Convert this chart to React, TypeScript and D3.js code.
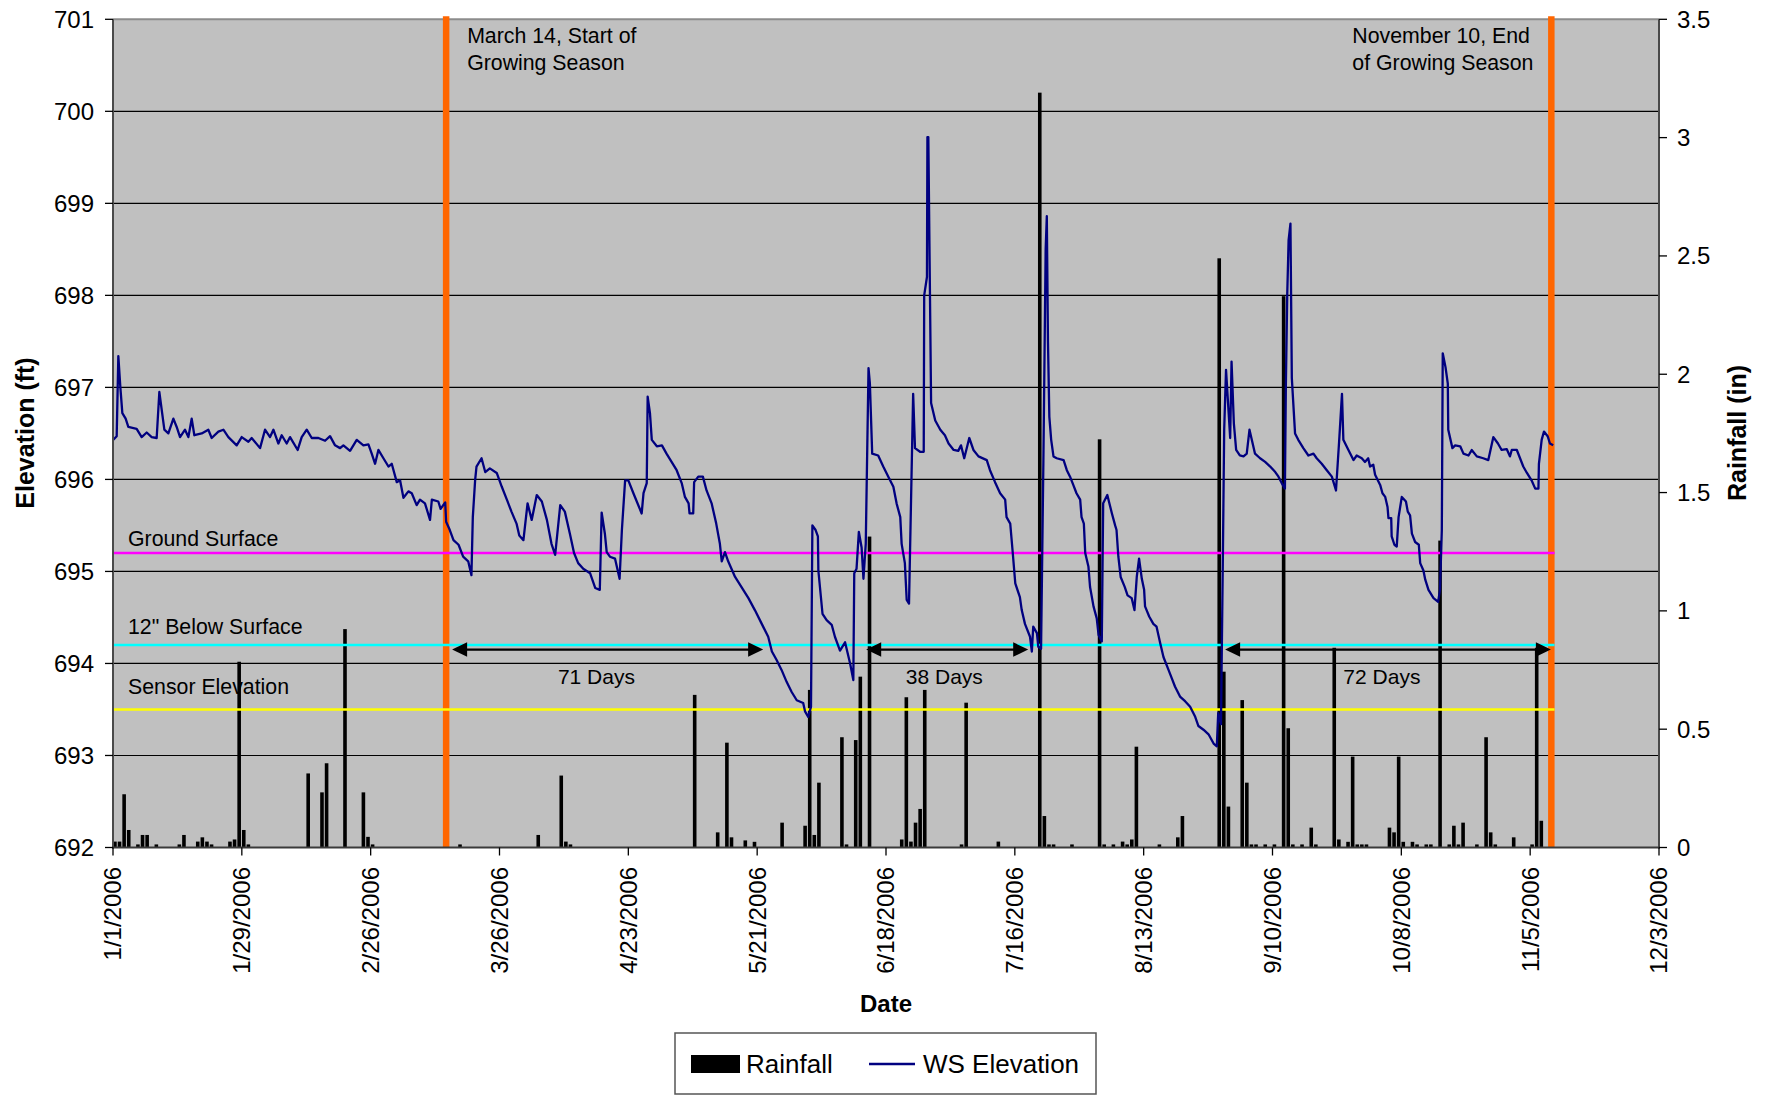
import React from 'react';
import * as d3 from 'd3';

// ---------- DATA ----------
const START_DATE = new Date(2006, 0, 1);
const AXIS_END_DAY = 336; // 12/3/2006
const tickDays = d3.range(0, 337, 28);
const elevTicks = d3.range(692, 702, 1);
const rainTicks = [0, 0.5, 1, 1.5, 2, 2.5, 3, 3.5];

// Daily rainfall (day index since 1/1/2006, inches)
const rainDays = [0, 1, 2, 3, 5, 6, 7, 9, 14, 15, 18, 19, 20, 21, 25, 26, 27, 28, 29, 42, 45, 46, 50, 54, 55, 56,
  75, 92, 97, 98, 99, 126, 131, 133, 134, 137, 139, 145, 150, 151, 152, 153, 158, 159, 161, 162, 164,
  171, 172, 173, 174, 175, 176, 184, 185, 192, 201, 202, 203, 204, 208, 214, 215, 217, 219, 220, 221, 222,
  227, 231, 232, 240, 241, 242, 245, 246, 247, 248, 250, 252, 254, 255, 256, 258, 260, 261, 265, 266, 268,
  269, 270, 271, 272, 277, 278, 279, 280, 282, 283, 285, 286, 288, 290, 291, 292, 293, 296, 298, 299, 300,
  304, 308, 309, 310];
const rainInches = [0.025, 0.025, 0.225, 0.074, 0.013, 0.053, 0.053, 0.013, 0.013, 0.053, 0.025, 0.043, 0.025, 0.013, 0.025, 0.034, 0.785, 0.074, 0.013, 0.313, 0.233, 0.356, 0.923, 0.233, 0.045, 0.013,
  0.013, 0.053, 0.304, 0.025, 0.013, 0.645, 0.064, 0.443, 0.043, 0.03, 0.024, 0.105, 0.092, 0.666, 0.053, 0.274, 0.466, 0.013, 0.454, 0.722, 1.314,
  0.034, 0.635, 0.025, 0.105, 0.163, 0.666, 0.013, 0.612, 0.025, 3.19, 0.133, 0.013, 0.013, 0.013, 1.725, 0.013, 0.013, 0.025, 0.013, 0.034, 0.426,
  0.013, 0.043, 0.133, 2.49, 0.743, 0.173, 0.623, 0.274, 0.013, 0.013, 0.013, 0.013, 2.33, 0.504, 0.013, 0.013, 0.084, 0.013, 0.844, 0.034, 0.024,
  0.384, 0.013, 0.013, 0.013, 0.084, 0.064, 0.384, 0.024, 0.024, 0.013, 0.013, 0.013, 1.297, 0.013, 0.092, 0.013, 0.105, 0.013, 0.466, 0.064, 0.013,
  0.043, 0.013, 0.844, 0.113];

// Water surface elevation (day since 1/1/2006, ft)
const wsDays = [0.07, 0.8, 1.16, 1.6, 2.03, 2.75, 3.33, 5.14, 6.23, 7.32, 8.41, 9.49, 10.07, 11.16, 12.03, 13.12, 13.84, 14.57, 15.65, 16.38, 17.1, 17.68, 19.28, 20.72, 21.45, 22.9, 23.99, 25.07, 26.88, 27.97, 29.42, 30.14, 31.96, 33.04, 34.13, 34.86, 35.94, 36.67, 37.75, 38.48, 40.14, 41.01, 42.1, 43.19, 44.64, 46.09, 47.17, 48.26, 49.35, 50.07, 51.52, 52.97, 54.42, 55.51, 56.23, 56.96, 57.68, 58.77, 59.86, 60.58, 61.67, 62.39, 63.12, 64.2, 64.93, 66.0,
  66.72, 67.8, 68.9, 69.3, 70.7, 71.2, 72.2, 72.4, 73.2, 74.0, 75.1, 76.1, 77.2, 77.9, 78.2, 78.7, 79.0, 80.1, 80.9, 81.9, 83.4, 84.5, 85.6, 86.6, 87.7, 88.3, 89.2, 90.1, 91.0, 92.1, 93.2, 94.3, 95.3, 96.1, 97.2, 98.2, 99.3, 100.2, 101.1, 102.2, 103.7, 104.8, 105.8, 106.2, 106.9, 107.3, 108.0, 109.1, 110.1, 110.6, 111.3, 112.0, 113.1, 114.9, 115.3, 116.0, 116.2, 116.7, 117.1, 118.2, 119.3, 120.3, 121.4, 122.5, 123.6, 124.3, 125.1, 125.3, 126.1, 126.3, 127.2, 128.2, 129.0, 130.1, 131.1, 131.9, 132.3, 133.0, 133.7, 135.2,
  136.6, 138.1, 139.5, 141.0, 142.4, 143.2, 144.2, 145.3, 146.4, 147.5, 148.6, 150.0, 150.4, 151.1, 151.7, 152.0, 152.7, 153.2, 153.3, 154.2, 155.1, 156.2, 156.9, 158.0, 159.1, 160.2, 160.9, 161.1, 161.6, 162.1, 162.7, 163.1, 163.6, 164.2, 164.5, 165.0, 166.3, 167.4, 168.5, 169.6, 170.3, 171.1, 171.4, 172.1, 172.5, 173.0, 173.9, 174.3, 175.4, 176.2, 176.3, 176.9, 177.0, 177.2, 177.8, 178.7, 179.8, 180.8, 181.6, 182.7, 183.7, 184.3, 185.0, 186.1, 187.0, 188.1, 189.9, 190.6, 191.7, 192.8, 193.9, 194.2, 195.0, 195.5, 196.1, 197.1, 197.5, 198.2, 199.3, 199.7, 200.0, 200.8, 201.1, 201.7, 202.2, 202.7, 202.95, 203.2, 203.5, 203.9, 204.4,
  205.1, 206.6, 207.3, 208.0, 208.7, 209.4, 210.2, 210.5, 211.0, 211.3, 212.0, 212.35, 213.1, 213.8, 214.2, 214.9, 215.2, 216.1, 217.1, 217.8, 218.1, 218.5, 219.0, 219.9, 220.5, 221.4, 222.0, 222.5, 223.0, 223.6, 224.1, 224.3, 225.2, 226.1, 226.8, 227.6, 228.3, 229.4, 230.1, 230.8, 231.9, 233.0, 234.1, 235.2, 235.9, 237.0, 238.1, 239.2, 239.9, 240.2, 240.8, 241.2, 241.5, 241.9, 242.8, 243.1, 243.6, 244.1, 244.9, 245.7, 246.4, 247.0, 247.5, 248.2, 249.3, 250.4, 251.5, 252.6, 253.3, 254.0, 254.7, 254.9, 255.2, 255.5, 255.9, 256.2, 256.9, 257.6, 258.7, 259.8, 260.9, 261.6, 262.7, 263.8, 264.9, 265.8, 266.5, 267.1, 267.4, 268.5, 269.6, 270.3, 271.4, 272.1,
  272.8, 273.2, 273.9, 274.3, 275.4, 275.9, 276.5, 277.0, 277.2, 277.8, 277.9, 278.5, 279.0, 279.4, 280.1, 281.0, 281.4, 281.9, 282.3, 283.0, 283.8, 284.1, 284.8, 285.2, 285.9, 287.0, 288.0, 288.4, 288.8, 289.0, 289.6, 290.1, 290.2, 291.1, 291.7, 292.8, 293.5, 294.6, 295.3, 296.4, 297.8, 298.9, 300.0, 301.0, 301.8, 302.9, 303.6, 304.0, 305.1, 305.8, 306.5, 307.3, 308.3, 309.1, 309.8, 309.9, 310.5, 311.0, 311.8, 312.3, 313.0];
const wsElev = [696.43, 696.47, 697.34, 697.0, 696.72, 696.66, 696.57, 696.55, 696.46, 696.51, 696.46, 696.45, 696.95, 696.54, 696.5, 696.66, 696.57, 696.46, 696.54, 696.46, 696.66, 696.48, 696.5, 696.54, 696.45, 696.52, 696.54, 696.46, 696.37, 696.46, 696.41, 696.45, 696.34, 696.54, 696.46, 696.54, 696.39, 696.48, 696.39, 696.46, 696.32, 696.46, 696.54, 696.45, 696.45, 696.42, 696.47, 696.37, 696.34, 696.37, 696.31, 696.43, 696.37, 696.38, 696.28, 696.17, 696.32, 696.23, 696.14, 696.17, 695.97, 695.99, 695.8, 695.87, 695.85, 695.72,
  695.78, 695.74, 695.56, 695.78, 695.76, 695.68, 695.75, 695.54, 695.45, 695.34, 695.29, 695.16, 695.11, 694.96, 695.59, 695.99, 696.14, 696.23, 696.08, 696.12, 696.07, 695.92, 695.78, 695.65, 695.52, 695.39, 695.34, 695.74, 695.56, 695.83, 695.76, 695.56, 695.3, 695.18, 695.72, 695.65, 695.41, 695.2, 695.09, 695.03, 694.98, 694.82, 694.8, 695.64, 695.41, 695.21, 695.16, 695.14, 694.92, 695.45, 695.99, 695.99, 695.85, 695.63, 695.85, 695.96, 696.9, 696.72, 696.43, 696.36, 696.37, 696.28, 696.19, 696.1, 695.96, 695.81, 695.74, 695.63, 695.63, 695.97, 696.03, 696.03, 695.88, 695.74, 695.52, 695.3, 695.11, 695.21, 695.11, 694.94,
  694.83, 694.71, 694.58, 694.43, 694.29, 694.13, 694.04, 693.93, 693.8, 693.69, 693.6, 693.57, 693.48, 693.42, 693.53, 695.5, 695.45, 695.38, 695.01, 694.54, 694.47, 694.42, 694.29, 694.14, 694.23, 694.0, 693.82, 694.98, 695.03, 695.43, 695.26, 694.92, 695.3, 697.21, 697.04, 696.28, 696.26, 696.14, 696.03, 695.92, 695.74, 695.59, 695.3, 695.09, 694.69, 694.65, 696.93, 696.34, 696.3, 696.3, 698.0, 698.2, 699.72, 699.72, 696.83, 696.64, 696.54, 696.48, 696.39, 696.32, 696.31, 696.37, 696.23, 696.45, 696.32, 696.25, 696.21, 696.1, 695.97, 695.85, 695.78, 695.59, 695.52, 695.23, 694.87, 694.72, 694.58, 694.43, 694.29, 694.13, 694.4, 694.33, 694.18, 694.16, 696.17, 698.5, 698.86, 697.5, 696.68, 696.43, 696.25,
  696.23, 696.21, 696.1, 696.03, 695.94, 695.85, 695.78, 695.59, 695.52, 695.2, 695.05, 694.83, 694.62, 694.49, 694.31, 694.24, 695.74, 695.83, 695.63, 695.5, 695.45, 695.16, 694.94, 694.83, 694.74, 694.71, 694.58, 694.94, 695.14, 694.92, 694.8, 694.62, 694.51, 694.43, 694.4, 694.22, 694.07, 693.93, 693.84, 693.75, 693.64, 693.59, 693.53, 693.42, 693.32, 693.28, 693.23, 693.13, 693.1, 693.46, 693.34, 695.09, 696.54, 697.19, 696.45, 697.28, 696.61, 696.32, 696.26, 696.25, 696.28, 696.54, 696.43, 696.28, 696.23, 696.19, 696.14, 696.08, 696.03, 695.96, 695.9, 697.0, 698.0, 698.6, 698.78, 697.1, 696.5, 696.43, 696.34, 696.26, 696.28, 696.23, 696.17, 696.1, 696.03, 695.88, 696.43, 696.93, 696.43, 696.32, 696.21, 696.26, 696.23, 696.19,
  696.23, 696.14, 696.16, 696.05, 695.94, 695.85, 695.81, 695.7, 695.58, 695.58, 695.38, 695.29, 695.27, 695.59, 695.81, 695.76, 695.65, 695.61, 695.41, 695.32, 695.29, 695.09, 695.01, 694.91, 694.8, 694.71, 694.67, 694.8, 695.45, 697.37, 697.22, 697.04, 696.54, 696.34, 696.37, 696.36, 696.28, 696.26, 696.32, 696.25, 696.23, 696.21, 696.46, 696.39, 696.32, 696.33, 696.25, 696.32, 696.32, 696.23, 696.14, 696.07, 695.99, 695.9, 695.9, 696.17, 696.43, 696.52, 696.47, 696.39, 696.37];

// Reference elevations
const refNames = ['Ground Surface', '12" Below Surface', 'Sensor Elevation'];
const refElev = [695.2, 694.2, 693.5];
const refEndDay = 313.3;

// Growing season markers
const seasonDays = [72.4, 312.6];
const seasonText = [['March 14, Start of', 'Growing Season'], ['November 10, End', 'of Growing Season']];

// Duration arrows
const arrowStart = [73.7, 163.7, 241.7];
const arrowEnd = [141.3, 198.9, 312.5];
const arrowText = ['71 Days', '38 Days', '72 Days'];
const arrowTextDay = [96.7, 172.3, 267.4];

// ---------- STYLE ----------
const FONT = '"Liberation Sans", Arial, Helvetica, sans-serif';
const refColors = ['#FF00FF', '#00FFFF', '#FFFF00'];
const refLabelGap = [6.6, 11.3, 15.7];
const ORANGE = '#FF6600';
const NAVY = '#000080';
const PLOT_BG = '#C0C0C0';

export default function App() {
  const W = 1772, H = 1097;
  const L = 113, R = 1659, T = 19.3, B = 847.5;
  const x = d3.scaleLinear().domain([0, AXIS_END_DAY]).range([L, R]);
  const yL = d3.scaleLinear().domain([692, 701]).range([B, T]);
  const yR = d3.scaleLinear().domain([0, 3.5]).range([B, T]);
  const fmt = d3.timeFormat('%-m/%-d/%Y');
  const barW = 3.6;
  const barOff = 0.42;

  const line = d3.line<number>()
    .x((_, i) => x(wsDays[i]))
    .y((v) => yL(v));

  const arrowY = yL(694.2) + 4.5;
  const headL = 15, headH = 7.3;

  return (
    <svg width={W} height={H} style={{ position: 'absolute', left: 0, top: 0, background: '#fff' }}
      fontFamily={FONT}>
      <rect x={0} y={0} width={W} height={H} fill="#fff" />
      {/* plot background */}
      <rect x={L} y={T} width={R - L} height={B - T} fill={PLOT_BG} />
      {/* gridlines */}
      {elevTicks.filter((t) => t > 692 && t < 701).map((t) => (
        <line key={'g' + t} x1={L} x2={R} y1={yL(t)} y2={yL(t)} stroke="#000" strokeWidth={1.2} />
      ))}
      {/* top border */}
      <line x1={L} x2={R} y1={T} y2={T} stroke="#8c8c8c" strokeWidth={2} />

      {/* growing season lines */}
      {seasonDays.map((d, i) => (
        <line key={'s' + i} x1={x(d)} x2={x(d)} y1={T - 3} y2={B} stroke={ORANGE} strokeWidth={6.5} />
      ))}

      {/* rainfall bars */}
      {rainDays.map((d, i) => (
        <rect key={'r' + i} x={x(d + barOff) - barW / 2} y={yR(rainInches[i])} width={barW}
          height={B - yR(rainInches[i])} fill="#000" />
      ))}

      {/* reference lines */}
      {refElev.map((v, i) => (
        <line key={'ref' + i} x1={L} x2={x(refEndDay)} y1={yL(v)} y2={yL(v)} stroke={refColors[i]} strokeWidth={2.6} />
      ))}
      {refNames.map((n, i) => (
        <text key={'rn' + i} x={L + 15} y={yL(refElev[i]) - refLabelGap[i]} fontSize={21.3} fill="#000">{n}</text>
      ))}

      {/* WS elevation */}
      <path d={line(wsElev) || ''} fill="none" stroke={NAVY} strokeWidth={2.3} strokeLinejoin="round" />

      {/* arrows */}
      {arrowStart.map((s, i) => {
        const x1 = x(s), x2 = x(arrowEnd[i]);
        return (
          <g key={'a' + i}>
            <line x1={x1 + headL - 1} x2={x2 - headL + 1} y1={arrowY} y2={arrowY} stroke="#000" strokeWidth={2.2} />
            <polygon points={`${x1},${arrowY} ${x1 + headL},${arrowY - headH} ${x1 + headL},${arrowY + headH}`} fill="#000" />
            <polygon points={`${x2},${arrowY} ${x2 - headL},${arrowY - headH} ${x2 - headL},${arrowY + headH}`} fill="#000" />
            <text x={x(arrowTextDay[i])} y={arrowY + 34} fontSize={21} fill="#000">{arrowText[i]}</text>
          </g>
        );
      })}

      {/* season annotations */}
      {seasonText[0].map((t, j) => (
        <text key={'st0' + j} x={x(seasonDays[0]) + 21} y={43.3 + j * 26.7} fontSize={21.3} fill="#000">{t}</text>
      ))}
      {seasonText[1].map((t, j) => (
        <text key={'st1' + j} x={x(seasonDays[1]) - 199} y={43.3 + j * 26.7} fontSize={21.3} fill="#000">{t}</text>
      ))}

      {/* axes lines */}
      <line x1={L} x2={L} y1={T} y2={B + 1} stroke="#4a4a4a" strokeWidth={2} />
      <line x1={R} x2={R} y1={T} y2={B + 1} stroke="#4a4a4a" strokeWidth={2} />
      <line x1={L - 1} x2={R + 1} y1={B} y2={B} stroke="#3a3a3a" strokeWidth={2} />

      {/* left axis */}
      {elevTicks.map((t) => (
        <g key={'lt' + t}>
          <line x1={L - 8} x2={L} y1={yL(t)} y2={yL(t)} stroke="#000" strokeWidth={1.3} />
          <text x={94} y={yL(t)} dy="0.35em" textAnchor="end" fontSize={24} fill="#000">{t}</text>
        </g>
      ))}
      {/* right axis */}
      {rainTicks.map((t) => (
        <g key={'rt' + t}>
          <line x1={R} x2={R + 8} y1={yR(t)} y2={yR(t)} stroke="#000" strokeWidth={1.3} />
          <text x={1677} y={yR(t)} dy="0.35em" textAnchor="start" fontSize={24} fill="#000">{t}</text>
        </g>
      ))}
      {/* bottom axis */}
      {tickDays.map((d) => (
        <g key={'bt' + d}>
          <line x1={x(d)} x2={x(d)} y1={B} y2={B + 8} stroke="#000" strokeWidth={1.3} />
          <text transform={`translate(${x(d)},867) rotate(-90)`} dy="0.35em" textAnchor="end" fontSize={24} fill="#000">
            {fmt(d3.timeDay.offset(START_DATE, d))}
          </text>
        </g>
      ))}

      {/* axis titles */}
      <text transform="translate(25,433) rotate(-90)" dy="0.35em" textAnchor="middle" fontSize={25} fontWeight="bold">Elevation (ft)</text>
      <text transform="translate(1737,433) rotate(-90)" dy="0.35em" textAnchor="middle" fontSize={25} fontWeight="bold">Rainfall (in)</text>
      <text x={(L + R) / 2} y={1012} textAnchor="middle" fontSize={24} fontWeight="bold">Date</text>

      {/* legend */}
      <rect x={675} y={1033} width={421} height={61} fill="#fff" stroke="#555" strokeWidth={1.5} />
      <rect x={691} y={1055} width={49} height={18} fill="#000" />
      <text x={746} y={1072.5} fontSize={26}>Rainfall</text>
      <line x1={869} x2={915} y1={1064} y2={1064} stroke={NAVY} strokeWidth={2.5} />
      <text x={923} y={1072.5} fontSize={26}>WS Elevation</text>
    </svg>
  );
}
